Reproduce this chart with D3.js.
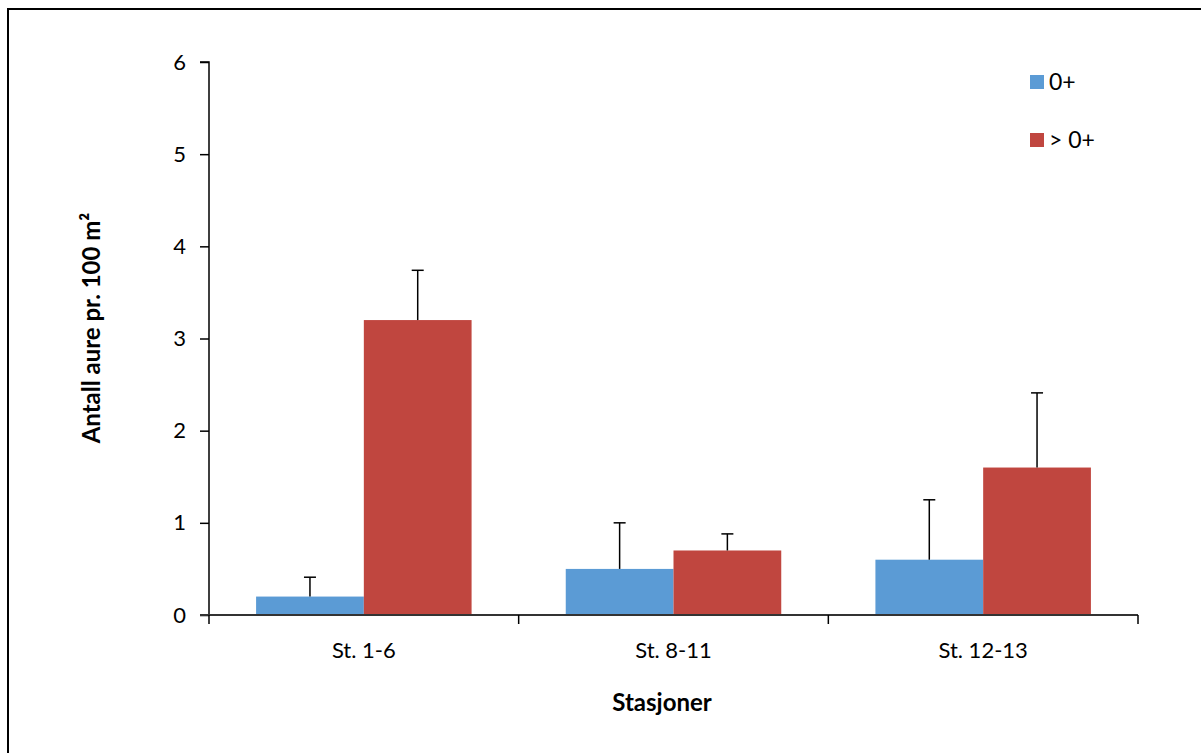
<!DOCTYPE html>
<html>
<head>
<meta charset="utf-8">
<script src="https://cdn.jsdelivr.net/npm/d3@7"></script>
<style>
  html, body { margin: 0; padding: 0; background: #fff; }
  svg { display: block; font-family: Lato, "Open Sans", sans-serif; }
</style>
</head>
<body>
<svg id="chart" width="1201" height="753"></svg>
<script>
const categories = ["St. 1-6", "St. 8-11", "St. 12-13"];
const seriesNames = ["0+", "> 0+"];
const values0 = [0.2, 0.5, 0.6];
const values1 = [3.2, 0.7, 1.6];
const errors0 = [0.21, 0.5, 0.65];
const errors1 = [0.54, 0.18, 0.81];
const yTicks = [0, 1, 2, 3, 4, 5, 6];
const colors = ["#5b9bd5", "#c0463f"];
const yTitle = "Antall aure pr. 100 m²";
const xTitle = "Stasjoner";

(function () {
const svg = d3.select("#chart");

// frame (top & left visible)
svg.append("line").attr("x1", 8).attr("x2", 1201).attr("y1", 9).attr("y2", 9)
  .attr("stroke", "#000").attr("stroke-width", 2);
svg.append("line").attr("x1", 8).attr("x2", 8).attr("y1", 8).attr("y2", 753)
  .attr("stroke", "#000").attr("stroke-width", 2);

const pL = 209, pR = 1138, pT = 62, pB = 615;

const x0 = d3.scaleBand().domain(categories).range([pL, pR]).paddingInner(0).paddingOuter(0);
const x1 = d3.scaleBand().domain(seriesNames).range([0, x0.bandwidth()]).paddingInner(0).paddingOuter(0.437);
const y = d3.scaleLinear().domain([0, 6]).range([pB, pT]);

const data = categories.map((c, i) => ({
  cat: c,
  bars: [
    { s: seriesNames[0], v: values0[i], e: errors0[i], col: colors[0] },
    { s: seriesNames[1], v: values1[i], e: errors1[i], col: colors[1] }
  ]
}));

const g = svg.append("g");
const groups = g.selectAll("g.grp").data(data).enter().append("g")
  .attr("transform", d => `translate(${x0(d.cat)},0)`);

groups.selectAll("rect").data(d => d.bars).enter().append("rect")
  .attr("x", d => x1(d.s))
  .attr("width", x1.bandwidth())
  .attr("y", d => y(d.v))
  .attr("height", d => y(0) - y(d.v))
  .attr("fill", d => d.col);

// error bars (upper only)
const eb = groups.selectAll("g.err").data(d => d.bars).enter().append("g");
eb.append("line")
  .attr("x1", d => x1(d.s) + x1.bandwidth() / 2)
  .attr("x2", d => x1(d.s) + x1.bandwidth() / 2)
  .attr("y1", d => y(d.v))
  .attr("y2", d => y(d.v + d.e))
  .attr("stroke", "#000").attr("stroke-width", 1.5);
eb.append("line")
  .attr("x1", d => x1(d.s) + x1.bandwidth() / 2 - 6)
  .attr("x2", d => x1(d.s) + x1.bandwidth() / 2 + 6)
  .attr("y1", d => y(d.v + d.e))
  .attr("y2", d => y(d.v + d.e))
  .attr("stroke", "#000").attr("stroke-width", 1.5);

// y axis
const yAxis = d3.axisLeft(y).tickValues(yTicks).tickSize(9).tickPadding(14).tickFormat(d3.format("d"));
const ya = svg.append("g").attr("transform", `translate(${pL},0)`).call(yAxis);
ya.select(".domain").attr("stroke", "#000").attr("stroke-width", 1.5).attr("d", `M-9,${pT}H0V${pB}`);
ya.selectAll(".tick line").attr("stroke", "#000").attr("stroke-width", 1.5);
ya.selectAll(".tick text").attr("font-size", 22).attr("fill", "#000").attr("font-family", "Lato, sans-serif");

// x axis
const xa = svg.append("g").attr("transform", `translate(0,${pB})`);
xa.append("line").attr("x1", pL - 9).attr("x2", pR).attr("y1", 0).attr("y2", 0)
  .attr("stroke", "#333").attr("stroke-width", 2);
const xBounds = [pL].concat(categories.map(c => x0(c) + x0.bandwidth()));
xa.selectAll("line.tk").data(xBounds).enter().append("line")
  .attr("x1", d => d).attr("x2", d => d).attr("y1", 0).attr("y2", 9)
  .attr("stroke", "#000").attr("stroke-width", 1.5);
xa.selectAll("text").data(categories).enter().append("text")
  .attr("x", d => x0(d) + x0.bandwidth() / 2)
  .attr("y", 43)
  .attr("text-anchor", "middle")
  .attr("font-size", 22)
  .attr("fill", "#000")
  .text(d => d);

// titles
svg.append("text").attr("x", 662).attr("y", 711).attr("text-anchor", "middle")
  .attr("font-size", 24).attr("font-weight", "bold").text(xTitle);
svg.append("text").attr("transform", `translate(100,328) rotate(-90)`).attr("text-anchor", "middle")
  .attr("font-size", 24).attr("font-weight", "bold").text(yTitle);

// legend
const leg = svg.append("g").selectAll("g").data(seriesNames).enter().append("g")
  .attr("transform", (d, i) => `translate(1030,${75 + i * 58})`);
leg.append("rect").attr("width", 14).attr("height", 14).attr("fill", (d, i) => colors[i]);
leg.append("text").attr("x", 19).attr("y", 15).attr("font-size", 23).attr("fill", "#000").text(d => d);
})();
</script>
</body>
</html>
